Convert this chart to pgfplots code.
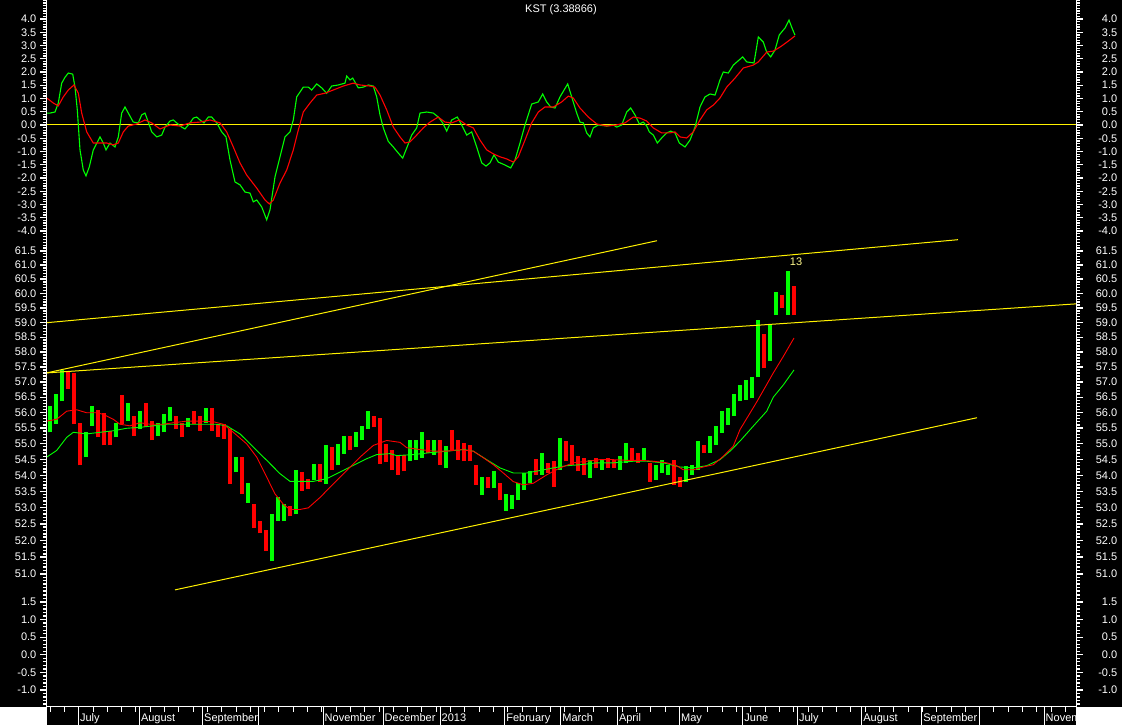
\documentclass[border=0pt]{standalone}
\usepackage{fontspec}
\setmainfont{Liberation Sans}
\usepackage{pgfplots}
\usepackage{pgfplotstable}
\pgfplotsset{compat=1.18}

% x positions are chart positions of the trading days (left axis = 46.5, right axis = 1076.5)
\pgfplotstableread{
t lo hi
50 55.36 56.20
56 55.62 56.62
62 56.36 57.40
86 54.57 55.36
92 55.57 56.20
116 55.20 55.67
128 55.72 56.30
140 55.46 56.04
158 55.25 55.67
164 55.36 55.94
170 55.72 56.17
188 55.52 55.83
206 55.67 56.15
236 54.10 54.57
248 53.15 53.75
272 51.37 52.79
278 52.58 53.31
284 52.58 53.10
296 52.79 54.15
314 53.84 54.34
326 53.73 54.94
338 54.31 54.99
344 54.67 55.25
356 54.89 55.36
362 55.10 55.57
368 55.46 56.04
410 54.44 55.13
416 54.49 55.13
422 54.55 55.37
434 54.65 55.10
446 54.23 54.92
482 53.38 53.96
494 53.59 54.12
506 52.90 53.43
512 52.95 53.38
518 53.22 53.75
524 53.54 54.07
530 53.75 54.12
542 54.01 54.71
560 54.17 55.19
590 53.91 54.49
602 54.17 54.49
620 54.17 54.60
626 54.39 55.03
644 54.49 54.87
656 53.86 54.33
662 54.07 54.49
668 54.01 54.33
686 53.80 54.28
692 54.01 54.33
698 54.17 55.08
710 54.71 55.24
716 54.97 55.56
722 55.35 56.04
728 55.61 56.14
734 55.88 56.62
740 56.36 56.89
746 56.41 57.05
752 56.47 57.15
758 57.15 59.07
770 57.70 58.90
776 59.25 60.05
788 59.25 60.80
}\upbars

\pgfplotstableread{
t lo hi
68 56.78 57.35
74 55.62 57.30
80 54.31 55.67
98 55.20 56.09
104 54.94 55.99
110 54.94 55.41
122 55.62 56.56
134 55.25 55.88
146 55.52 56.30
152 55.10 55.72
176 55.46 55.88
182 55.20 55.67
194 55.62 56.04
200 55.41 55.88
212 55.41 56.15
218 55.20 55.62
224 55.15 55.62
230 53.73 55.46
242 53.42 54.57
254 52.37 53.10
260 52.21 52.58
266 51.68 52.31
290 52.73 53.05
302 53.52 54.10
308 53.57 53.89
320 53.78 54.36
332 54.15 54.89
350 54.78 55.25
374 55.52 55.88
380 54.36 55.83
386 54.41 54.99
392 54.15 54.78
398 54.01 54.60
404 54.12 54.65
428 54.71 55.13
440 54.33 55.10
452 54.81 55.45
458 54.49 55.13
464 54.44 55.03
470 54.44 54.97
476 53.70 54.33
488 53.59 53.93
500 53.22 53.75
536 54.01 54.52
548 54.07 54.39
554 53.64 54.44
566 54.44 55.08
572 54.33 54.97
578 54.12 54.60
584 54.01 54.55
596 54.23 54.55
608 54.23 54.55
614 54.23 54.49
632 54.44 54.87
638 54.39 54.71
650 53.80 54.39
674 53.70 54.49
680 53.64 53.96
704 54.71 54.97
764 57.45 58.60
782 59.50 59.95
794 59.25 60.25
}\downbars

\newcommand\kstmajor{-4,-3.5,...,4}
\newcommand\kstminor{-4.2,-4.1,...,4.7}
\newcommand\pricemajor{51,51.5,52,52.5,53,53.5,54,54.5,55,55.5,56,56.5,57,57.5,58,58.5,59,59.5,60,60.5,61,61.5}
\newcommand\priceminor{50.5,50.6,50.7,50.8,50.9,51.0,51.1,51.2,51.3,51.4,51.5,51.6,51.7,51.8,51.9,%
52.0,52.1,52.2,52.3,52.4,52.5,52.6,52.7,52.8,52.9,53.0,53.1,53.2,53.3,53.4,53.5,53.6,53.7,53.8,53.9,%
54.0,54.1,54.2,54.3,54.4,54.5,54.6,54.7,54.8,54.9,55.0,55.1,55.2,55.3,55.4,55.5,55.6,55.7,55.8,55.9,%
56.0,56.1,56.2,56.3,56.4,56.5,56.6,56.7,56.8,56.9,57.0,57.1,57.2,57.3,57.4,57.5,57.6,57.7,57.8,57.9,%
58.0,58.1,58.2,58.3,58.4,58.5,58.6,58.7,58.8,58.9,59.0,59.1,59.2,59.3,59.4,59.5,59.6,59.7,59.8,59.9,%
60.0,60.1,60.2,60.3,60.4,60.5,60.6,60.7,60.8,60.9,61.0,61.1,61.2,61.3,61.4,61.5,61.6,61.7,61.8,61.9}
\newcommand\lowmajor{-1,-0.5,...,1.5}
\newcommand\lowminor{-1.4,-1.3,...,1.7}

% tick comb of a scale strip: #1 x at the chart side, #2 x where a minor tick ends,
% #3 x where a major tick ends, #4 major tick values, #5 minor tick values
\newcommand\tickcomb[5]{%
  \foreach \v in #5 {\edef\tmp{\noexpand\draw[white, line width=1.3pt] (axis cs:#1,\v) -- (axis cs:#2,\v);}\tmp}%
  \foreach \v in #4 {\edef\tmp{\noexpand\draw[white, line width=1.3pt] (axis cs:#1,\v) -- (axis cs:#3,\v);}\tmp}%
}

\pgfplotsset{
  % plotting area of a panel
  panel/.style={scale only axis, width=1030pt, anchor=south west,
    xmin=46.5, xmax=1076.5, hide axis},
  % narrow scale strips (6.5pt wide) that carry the ticks and tick labels
  ruler/.style={scale only axis, width=6.5pt, anchor=south west,
    xmin=0, xmax=1, xtick=\empty, clip=false,
    axis line style={draw=none},
    major tick length=0pt, minor tick length=0pt,
    yticklabel style={font=\fontsize{11}{13}\selectfont, text=white, inner sep=0pt}},
  leftruler/.style={ruler, yticklabel pos=left,
    yticklabel style={anchor=east, xshift=-3.5pt}},
  rightruler/.style={ruler, yticklabel pos=right,
    yticklabel style={anchor=west, text width=34pt, align=right}},
  kstrange/.style={height=238pt, ymin=-4.264, ymax=4.717},
  kstticks/.style={ytick={-4,-3.5,...,4},
    yticklabels={-4.0,-3.5,-3.0,-2.5,-2.0,-1.5,-1.0,-0.5,0.0,0.5,1.0,1.5,2.0,2.5,3.0,3.5,4.0}},
  pricerange/.style={height=354pt, ymin=50.47, ymax=61.96},
  priceticks/.style={ytick={51,51.5,52,52.5,53,53.5,54,54.5,55,55.5,56,56.5,57,57.5,58,58.5,59,59.5,60,60.5,61,61.5},
    yticklabels={51.0,51.5,52.0,52.5,53.0,53.5,54.0,54.5,55.0,55.5,56.0,56.5,57.0,57.5,58.0,58.5,59.0,59.5,60.0,60.5,61.0,61.5}},
  lowrange/.style={height=115pt, ymin=-1.483, ymax=1.784},
  lowticks/.style={ytick={-1,-0.5,...,1.5},
    yticklabels={-1.0,-0.5,0.0,0.5,1.0,1.5}},
}

\begin{document}
\begin{tikzpicture}[x=1pt,y=1pt]
\path[use as bounding box] (0,0) rectangle (1122,725);
\fill[black] (0,0) rectangle (1122,725);

% ---- KST panel
\begin{axis}[panel, kstrange, at={(46.5pt,487pt)}]
\addplot[yellow, line width=1pt] coordinates {(46.5,0) (1076.5,0)};
\addplot[green, line width=1.1pt] coordinates {
(46.7,0.45) (50,0.45) (55,0.49) (58.3,0.83) (61.7,1.58) (65,1.8) (68.3,1.96) (72.7,1.92)
(75,1.43) (77.3,0.57) (80,-0.94) (83.3,-1.7) (86,-1.92) (89.3,-1.58) (93.3,-0.94) (100,-0.45)
(103.3,-0.68) (106,-0.94) (110,-0.68) (115,-0.83) (118.3,-0.45) (121.7,0.45) (125,0.68) (128.3,0.45)
(133.3,0.11) (138.3,0.08) (141.7,0.38) (145,0.45) (148.3,0.11) (151.7,-0.26) (156.7,-0.45) (161.7,-0.38)
(165,-0.08) (170,0.15) (173.3,0.19) (176.7,0.08) (181.7,-0.08) (185,-0.15) (190,0.08) (193.3,0.26)
(196.7,0.30) (200,0.19) (204,0.08) (208.3,0.30) (211.7,0.30) (216.7,0.08) (221.7,-0.26) (226,-0.45)
(230,-1.32) (235,-2.15) (240,-2.26) (245,-2.53) (250,-2.57) (253.3,-2.9) (256.7,-2.83) (261.7,-3.09)
(266.7,-3.58) (270,-3.2) (275,-1.96) (280,-1.2) (285,-0.45) (290,-0.26) (293.3,0.19) (296.7,1.06)
(303.3,1.43) (308.3,1.43) (311.7,1.32) (316.7,1.55) (321.7,1.4) (326.7,1.2) (331.7,1.47) (338.3,1.51)
(345,1.58) (346.7,1.85) (350,1.7) (352.7,1.77) (358.3,1.4) (363.3,1.43) (368.3,1.51) (373.3,1.47)
(376.7,1.06) (380,0.38) (383.3,-0.11) (388.3,-0.62) (393.3,-0.83) (398.3,-1.06) (402.7,-1.25) (406.7,-0.87)
(411.7,-0.38) (416.7,-0.11) (420,0.45) (426.7,0.49) (433.3,0.45) (438.3,0.30) (442.7,0.08) (446.7,-0.23)
(451.7,0.19) (457.3,0.30) (461.7,0) (466.7,-0.38) (471.7,-0.26) (476.7,-0.83) (481.7,-1.43) (486,-1.55)
(490,-1.43) (494,-1.13) (498.3,-1.4) (505,-1.51) (510.7,-1.62) (515,-1.32) (520,-0.68) (525,0)
(531.7,0.79) (538.3,0.87) (542.7,1.17) (546.7,0.87) (550.7,0.68) (555,0.64) (560,1.06) (567.7,1.55)
(571.7,1.06) (576.7,0.45) (580,0.11) (583.3,0.08) (586.7,-0.30) (590,-0.45) (593.3,-0.11) (598.3,0)
(606.7,-0.04) (613.3,0) (616.7,-0.08) (621.7,0) (626.7,0.49) (630.7,0.64) (635,0.38) (639.3,0.04)
(643.3,0.11) (646.7,-0.04) (649.3,-0.26) (653.3,-0.38) (657.3,-0.68) (661.7,-0.49) (666.7,-0.30) (670.7,-0.23)
(675,-0.30) (679.3,-0.68) (685,-0.83) (690,-0.57) (695,-0.08) (700,0.68) (705,1.06) (710,1.17)
(715,1.13) (720,1.7) (723.3,2.0) (728.3,1.96) (733.3,2.26) (742.7,2.57) (746.7,2.38) (754,2.34)
(758.3,3.32) (763.3,3.13) (766.7,2.75) (770.7,2.57) (775,2.83) (779.3,3.4) (785,3.66) (789,3.96)
(792,3.66) (795,3.39)};
\addplot[red, line width=1.1pt] coordinates {
(46.7,1.02) (53.3,0.83) (58.3,0.72) (63.3,1.06) (68.3,1.32) (74,1.51) (78.3,1.2) (81.7,0.45)
(86.7,-0.26) (93.3,-0.68) (100,-0.68) (106.7,-0.68) (113.3,-0.75) (118.3,-0.68) (123.3,-0.26) (128.3,-0.04)
(136.7,0.04) (145,0.19) (151.7,0.08) (160,-0.15) (170,0) (180,-0.04) (190,0.08) (200,0.11)
(210,0.19) (220,0.08) (226.7,-0.26) (233.3,-0.83) (240,-1.43) (246.7,-1.89) (256.7,-2.38) (265,-2.83)
(269.3,-2.98) (273.3,-2.83) (280,-2.19) (286.7,-1.7) (293.3,-0.94) (298.3,-0.19) (303.3,0.49) (310,0.83)
(316.7,1.13) (325,1.2) (333.3,1.32) (343.3,1.47) (353.3,1.58) (360,1.51) (370,1.47) (375,1.43)
(380,1.13) (386.7,0.57) (393.3,-0.08) (400,-0.45) (405,-0.68) (410,-0.64) (416.7,-0.38) (423.3,-0.11)
(430,0.11) (438.3,0.30) (445,0.11) (451.7,0.08) (459.3,0.19) (466.7,0) (473.3,-0.11) (480,-0.57)
(486.7,-0.94) (493.3,-1.09) (500,-1.2) (506.7,-1.28) (513.3,-1.40) (518.3,-1.2) (525,-0.57) (531.7,0.08)
(538.3,0.49) (545,0.68) (553.3,0.68) (561.7,0.87) (568.3,1.09) (573.3,1.02) (580,0.64) (588.3,0.30)
(596.7,0.04) (606.7,-0.04) (616.7,0) (625,0.08) (633.3,0.30) (640,0.26) (646.7,0.15) (653.3,-0.11)
(661.7,-0.30) (670,-0.30) (675,-0.26) (680,-0.45) (686.7,-0.49) (693.3,-0.26) (700,0.19) (706.7,0.57)
(713.3,0.75) (720,1.02) (726.7,1.43) (735,1.77) (743.3,2.15) (753.3,2.26) (758.3,2.38) (766.7,2.75)
(773.3,2.79) (780,2.94) (787,3.13) (795,3.36)};
\end{axis}
\begin{axis}[leftruler, kstrange, kstticks, at={(40pt,487pt)}]
\tickcomb{1}{0.46}{0}{\kstmajor}{\kstminor}
\end{axis}
\begin{axis}[rightruler, kstrange, kstticks, at={(1076.5pt,487pt)}]
\tickcomb{0}{0.54}{1}{\kstmajor}{\kstminor}
\end{axis}

% ---- price panel (logarithmic)
\begin{semilogyaxis}[panel, pricerange, at={(46.5pt,133pt)}]
\addplot[draw=none, forget plot, error bars/.cd, y dir=plus, y explicit, error mark=none,
  error bar style={draw=green, line width=4pt}]
  table[x=t, y=lo, y error plus expr=\thisrow{hi}-\thisrow{lo}] {\upbars};
\addplot[draw=none, forget plot, error bars/.cd, y dir=plus, y explicit, error mark=none,
  error bar style={draw=red, line width=4pt}]
  table[x=t, y=lo, y error plus expr=\thisrow{hi}-\thisrow{lo}] {\downbars};
% moving averages
\addplot[green, line width=0.9pt] coordinates {
(46.7,54.57) (56.7,54.78) (66.7,55.20) (73.3,55.36) (86.7,55.31) (100,55.36) (113.3,55.41) (126.7,55.49)
(140,55.52) (153.3,55.57) (166.7,55.62) (183.3,55.62) (200,55.62) (216.7,55.62) (226.7,55.57) (240,55.31)
(253.3,54.89) (266.7,54.47) (280,54.05) (290,53.81) (300,53.81) (313.3,53.81) (326.7,53.89) (340,54.10)
(353.3,54.31) (366.7,54.52) (376.7,54.65) (390,54.68) (396.7,54.62) (413.3,54.65) (430,54.71) (446.7,54.76)
(463.3,54.81) (473.3,54.76) (486.7,54.49) (500,54.23) (513.3,54.07) (526.7,54.07) (540,54.15) (553.3,54.23)
(566.7,54.30) (580,54.33) (596.7,54.39) (613.3,54.39) (633.3,54.44) (646.7,54.44) (663.3,54.39) (680,54.26)
(693.3,54.23) (706.7,54.30) (720,54.49) (730,54.76) (740,55.08) (753.3,55.56) (766.7,56.04) (773.3,56.5)
(783.3,56.9) (794,57.4)};
\addplot[red, line width=0.9pt] coordinates {
(46.7,55.72) (56.7,55.78) (66.7,56.04) (76.7,56.09) (86.7,55.99) (96.7,55.99) (103.3,55.94) (113.3,55.78)
(120,55.62) (130,55.57) (140,55.67) (150,55.62) (163.3,55.62) (173.3,55.67) (186.7,55.72) (200,55.72)
(213.3,55.70) (223.3,55.62) (233.3,55.36) (246.7,54.99) (256.7,54.57) (266.7,53.94) (275,53.42) (283.3,53.10)
(290,52.94) (300,52.94) (308.3,52.99) (320,53.31) (333.3,53.73) (346.7,54.15) (360,54.57) (373.3,54.94)
(386.7,55.10) (400,55.04) (406.7,54.87) (420,54.81) (433.3,54.76) (446.7,54.76) (460,54.81) (473.3,54.76)
(483.3,54.55) (493.3,54.33) (503.3,54.07) (513.3,53.80) (523.3,53.70) (533.3,53.75) (546.7,54.01) (560,54.23)
(573.3,54.39) (586.7,54.44) (600,54.49) (613.3,54.49) (626.7,54.47) (640,54.47) (653.3,54.44) (666.7,54.39)
(676.7,54.30) (683.3,54.17) (693.3,54.17) (703.3,54.26) (713.3,54.33) (723.3,54.60) (733.3,54.92) (740,55.45)
(756.7,56.34) (773.3,57.3) (783.3,57.85) (794,58.47)};
% trend lines
\addplot[yellow, line width=1pt] coordinates {(46.5,57.3) (657,61.86)};
\addplot[yellow, line width=1pt] coordinates {(46.5,57.3) (1076.5,59.64)};
\addplot[yellow, line width=1pt] coordinates {(46.5,58.99) (958,61.90)};
\addplot[yellow, line width=1pt] coordinates {(175,50.53) (977,55.83)};
\node[text=yellow!45!white, font=\fontsize{11}{13}\selectfont] at (axis cs:796,61.1) {13};
\end{semilogyaxis}
\begin{semilogyaxis}[leftruler, pricerange, priceticks, at={(40pt,133pt)}]
\tickcomb{1}{0.46}{0}{\pricemajor}{\priceminor}
\end{semilogyaxis}
\begin{semilogyaxis}[rightruler, pricerange, priceticks, at={(1076.5pt,133pt)}]
\tickcomb{0}{0.54}{1}{\pricemajor}{\priceminor}
\end{semilogyaxis}

% ---- lower panel (empty)
\begin{axis}[leftruler, lowrange, lowticks, at={(40pt,18pt)}]
\tickcomb{1}{0.46}{0}{\lowmajor}{\lowminor}
\end{axis}
\begin{axis}[rightruler, lowrange, lowticks, at={(1076.5pt,18pt)}]
\tickcomb{0}{0.54}{1}{\lowmajor}{\lowminor}
\end{axis}

% ---- date strip
\begin{axis}[scale only axis, width=1030pt, height=18pt, at={(46.5pt,0pt)}, anchor=south west,
  xmin=46.5, xmax=1076.5, ymin=0, ymax=1, ytick=\empty,
  axis line style={draw=none},
  tick align=inside, xtick pos=right, xticklabel pos=left,
  xtick={78.3,139.3,202.5,258,323,383,440,504.6,560.7,617.3,679.4,742.7,797.3,861.7,921.7,979.3,1044},
  xticklabels={July,August,September,,November,December,2013,February,March,April,May,June,July,August,September,,November},
  minor xtick={50,64.3,...,1076},
  major tick length=18pt, minor tick length=4.7pt,
  tick style={white, line width=0.8pt},
  xticklabel style={font=\fontsize{11}{13}\selectfont, text=white, anchor=base west, inner sep=0pt,
    xshift=1.5pt, yshift=3.5pt}]
\end{axis}

% scale combs drawn once more directly on the page, outside the axes
\foreach \v in \kstminor {\pgfmathsetmacro\yy{487+238*(\v+4.264)/8.981}
  \draw[white, line width=1pt] (43,\yy) -- (46.5,\yy) (1076.5,\yy) -- (1080,\yy);}
\foreach \v in \kstmajor {\pgfmathsetmacro\yy{487+238*(\v+4.264)/8.981}
  \draw[white, line width=1pt] (40,\yy) -- (46.5,\yy) (1076.5,\yy) -- (1083,\yy);}
\foreach \v in \priceminor {\pgfmathsetmacro\yy{133+354*(ln(\v)-3.92138)/0.20511}
  \draw[white, line width=1pt] (43,\yy) -- (46.5,\yy) (1076.5,\yy) -- (1080,\yy);}
\foreach \v in \pricemajor {\pgfmathsetmacro\yy{133+354*(ln(\v)-3.92138)/0.20511}
  \draw[white, line width=1pt] (40,\yy) -- (46.5,\yy) (1076.5,\yy) -- (1083,\yy);}
\foreach \v in \lowminor {\pgfmathsetmacro\yy{18+115*(\v+1.483)/3.267}
  \draw[white, line width=1pt] (43,\yy) -- (46.5,\yy) (1076.5,\yy) -- (1080,\yy);}
\foreach \v in \lowmajor {\pgfmathsetmacro\yy{18+115*(\v+1.483)/3.267}
  \draw[white, line width=1pt] (40,\yy) -- (46.5,\yy) (1076.5,\yy) -- (1083,\yy);}

\draw[white, line width=1pt] (46.5,0) -- (46.5,725);
\draw[white, line width=1pt] (1076.5,0) -- (1076.5,725);
\draw[white, line width=1pt] (46.5,18) -- (1076.5,18);
\fill[white] (0,0) rectangle (46,18);
\fill[white] (1077,0) rectangle (1122,18);
\node[text=white, font=\fontsize{11}{13}\selectfont] at (561,715) {KST (3.38866)};
\end{tikzpicture}
\end{document}
